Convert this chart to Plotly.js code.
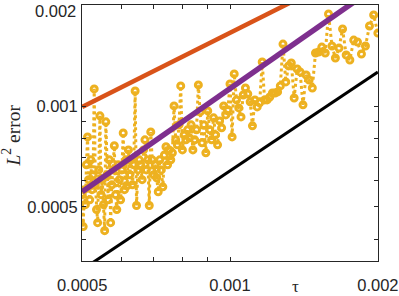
<!DOCTYPE html>
<html>
<head>
<meta charset="utf-8">
<script src="https://cdn.plot.ly/plotly-3.0.1.min.js"></script>
<style>html,body{margin:0;padding:0;background:#fff;}</style>
</head>
<body>
<div id="chart" style="width:399px;height:296px;"></div>
<script>
// time steps tau
const tau = [
5.000e-4,5.025e-4,5.051e-4,5.076e-4,5.102e-4,5.128e-4,5.155e-4,5.181e-4,5.208e-4,5.236e-4,
5.263e-4,5.291e-4,5.319e-4,5.348e-4,5.376e-4,5.405e-4,5.435e-4,5.464e-4,5.495e-4,5.525e-4,
5.556e-4,5.587e-4,5.618e-4,5.650e-4,5.682e-4,5.714e-4,5.747e-4,5.780e-4,5.814e-4,5.848e-4,
5.882e-4,5.917e-4,5.952e-4,5.988e-4,6.024e-4,6.061e-4,6.098e-4,6.135e-4,6.173e-4,6.211e-4,
6.250e-4,6.289e-4,6.329e-4,6.369e-4,6.410e-4,6.452e-4,6.494e-4,6.536e-4,6.579e-4,6.623e-4,
6.667e-4,6.711e-4,6.757e-4,6.803e-4,6.849e-4,6.897e-4,6.944e-4,6.993e-4,7.042e-4,7.092e-4,
7.143e-4,7.194e-4,7.246e-4,7.299e-4,7.353e-4,7.407e-4,7.463e-4,7.519e-4,7.576e-4,7.634e-4,
7.692e-4,7.752e-4,7.813e-4,7.874e-4,7.937e-4,8.000e-4,8.065e-4,8.130e-4,8.197e-4,8.264e-4,
8.333e-4,8.403e-4,8.475e-4,8.547e-4,8.621e-4,8.696e-4,8.772e-4,8.850e-4,8.929e-4,9.009e-4,
9.091e-4,9.174e-4,9.259e-4,9.346e-4,9.434e-4,9.524e-4,9.615e-4,9.709e-4,9.804e-4,9.901e-4,
10.00e-4,10.10e-4,10.20e-4,10.31e-4,10.42e-4,10.53e-4,10.64e-4,10.75e-4,10.87e-4,10.99e-4,
11.11e-4,11.24e-4,11.36e-4,11.49e-4,11.63e-4,11.76e-4,11.90e-4,12.05e-4,12.20e-4,12.35e-4,
12.50e-4,12.66e-4,12.82e-4,12.99e-4,13.16e-4,13.33e-4,13.51e-4,13.70e-4,13.89e-4,14.08e-4,
14.29e-4,14.49e-4,14.71e-4,14.93e-4,15.15e-4,15.38e-4,15.63e-4,15.87e-4,16.13e-4,16.39e-4,
16.67e-4,16.95e-4,17.24e-4,17.54e-4,17.86e-4,18.18e-4,18.52e-4,18.87e-4,19.23e-4,19.61e-4,
20.00e-4
];
// L2 error of the oscillating (yellow) scheme
const errYellow = [
5.44e-4,4.37e-4,5.63e-4,5.08e-4,6.68e-4,8.09e-4,6.03e-4,5.25e-4,6.91e-4,5.63e-4,
6.24e-4,11.25e-4,5.82e-4,4.91e-4,4.49e-4,6.45e-4,9.35e-4,5.44e-4,6.03e-4,5.08e-4,
4.25e-4,8.97e-4,6.24e-4,5.25e-4,6.91e-4,4.49e-4,5.82e-4,6.45e-4,7.61e-4,5.44e-4,
4.91e-4,6.68e-4,6.03e-4,5.25e-4,6.45e-4,8.31e-4,5.63e-4,6.91e-4,5.78e-4,7.40e-4,
6.24e-4,6.91e-4,5.82e-4,6.68e-4,11.09e-4,5.05e-4,6.45e-4,6.91e-4,6.68e-4,6.03e-4,
7.40e-4,7.93e-4,6.45e-4,6.91e-4,5.05e-4,8.37e-4,6.91e-4,6.24e-4,6.68e-4,6.11e-4,
5.55e-4,6.91e-4,6.45e-4,5.74e-4,7.15e-4,7.56e-4,6.68e-4,7.40e-4,6.91e-4,7.25e-4,
10.01e-4,7.93e-4,7.66e-4,8.79e-4,11.48e-4,7.40e-4,8.20e-4,7.93e-4,8.49e-4,8.04e-4,
8.79e-4,7.40e-4,7.93e-4,8.49e-4,11.56e-4,9.61e-4,7.77e-4,8.79e-4,7.25e-4,9.67e-4,
8.49e-4,7.93e-4,9.22e-4,8.20e-4,7.66e-4,9.03e-4,8.61e-4,10.01e-4,9.41e-4,9.74e-4,
11.64e-4,8.09e-4,12.47e-4,10.43e-4,9.87e-4,9.28e-4,10.79e-4,11.32e-4,10.86e-4,10.29e-4,
8.73e-4,10.43e-4,9.94e-4,10.22e-4,13.53e-4,10.43e-4,10.43e-4,10.64e-4,10.94e-4,10.94e-4,
11.02e-4,11.48e-4,15.30e-4,11.80e-4,13.17e-4,13.44e-4,10.57e-4,12.90e-4,12.64e-4,10.08e-4,
12.38e-4,11.96e-4,11.32e-4,14.39e-4,14.49e-4,14.99e-4,14.39e-4,18.81e-4,15.10e-4,13.91e-4,
14.89e-4,16.97e-4,14.20e-4,13.72e-4,15.73e-4,15.52e-4,14.30e-4,15.10e-4,17.32e-4,18.68e-4,
16.50e-4
];
// straight-line series
const tauOrange = [5.0e-4, 7.0e-4, 1.0e-3, 1.3e-3, 2.0e-3];
const errOrange = [9.94e-4, 12.7e-4, 16.5e-4, 20.0e-4, 27.5e-4];
const tauPurple = [5.0e-4, 7.0e-4, 1.0e-3, 1.5e-3, 2.0e-3];
const errPurple = [5.55e-4, 7.84e-4, 11.3e-4, 17.1e-4, 22.9e-4];
const tauBlack = [5.0e-4, 1.0e-3, 2.0e-3];
const errBlack = [3.25e-4, 6.41e-4, 12.63e-4];

const xTickVals = [0.0005,0.0006,0.0007,0.0008,0.0009,0.001,0.002];
const xTickText = ['0.0005','','','','','0.001','0.002'];
const yTickVals = [0.0004,0.0005,0.0006,0.0007,0.0008,0.0009,0.001,0.002];
const yTickText = ['','0.0005','','','','','0.001',''];
const yTopTickLabel = '0.002';

const traces = [
  {x: tau, y: errYellow, type:'scatter', mode:'lines+markers',
   line:{color:'#EDB120', width:3, dash:'dot'},
   marker:{symbol:'circle-open', size:6, color:'#EDB120', line:{width:3, color:'#EDB120'}},
   cliponaxis:true, hoverinfo:'skip'},
  {x: tauBlack, y: errBlack, type:'scatter', mode:'lines', line:{color:'#000000', width:3}},
  {x: tauPurple, y: errPurple, type:'scatter', mode:'lines', line:{color:'#7E2F8E', width:5.5}},
  {x: tauOrange, y: errOrange, type:'scatter', mode:'lines', line:{color:'#D95319', width:4.5}}
];

const tickFont = {family:'"Liberation Sans", Arial, sans-serif', size:16.5, color:'#262626'};
const axisCommon = {
  type:'log', ticks:'inside', ticklen:4, tickwidth:1, tickcolor:'#262626',
  showline:true, linecolor:'#262626', linewidth:1, mirror:'ticks',
  showgrid:false, zeroline:false, ticklabeloverflow:'allow',
  tickfont:tickFont
};

const layout = {
  width:399, height:296,
  margin:{l:82, r:21, t:5, b:35},
  paper_bgcolor:'#ffffff', plot_bgcolor:'#ffffff',
  showlegend:false,
  xaxis: Object.assign({}, axisCommon, {
    range:[Math.log10(0.0005) - 0.0003, Math.log10(0.002) + 0.0003],
    tickmode:'array', tickvals:xTickVals, ticktext:xTickText,
    ticklabelstandoff:9
  }),
  yaxis: Object.assign({}, axisCommon, {
    range:[Math.log10(0.000345), Math.log10(0.002) + 0.0003],
    tickmode:'array', tickvals:yTickVals, ticktext:yTickText
  }),
  annotations:[
    {text:yTopTickLabel, xref:'paper', yref:'paper', x:0, y:1, xanchor:'right', yanchor:'top',
     xshift:-4, yshift:5, showarrow:false, font:tickFont},
    {text:'τ', xref:'paper', yref:'paper', x:0.7196, y:-0.1, xanchor:'center', yanchor:'middle',
     showarrow:false, font:{family:'"Liberation Serif", "DejaVu Serif", serif', size:17, color:'#262626'}},
    {text:'<i>L</i><sup>2</sup> error', xref:'paper', yref:'paper', x:-0.24, y:0.49, xanchor:'center', yanchor:'middle',
     textangle:-90, showarrow:false, font:{family:'"Liberation Serif", "DejaVu Serif", serif', size:19.5, color:'#262626'}}
  ]
};

Plotly.newPlot('chart', traces, layout, {displayModeBar:false, staticPlot:true});
</script>
</body>
</html>
